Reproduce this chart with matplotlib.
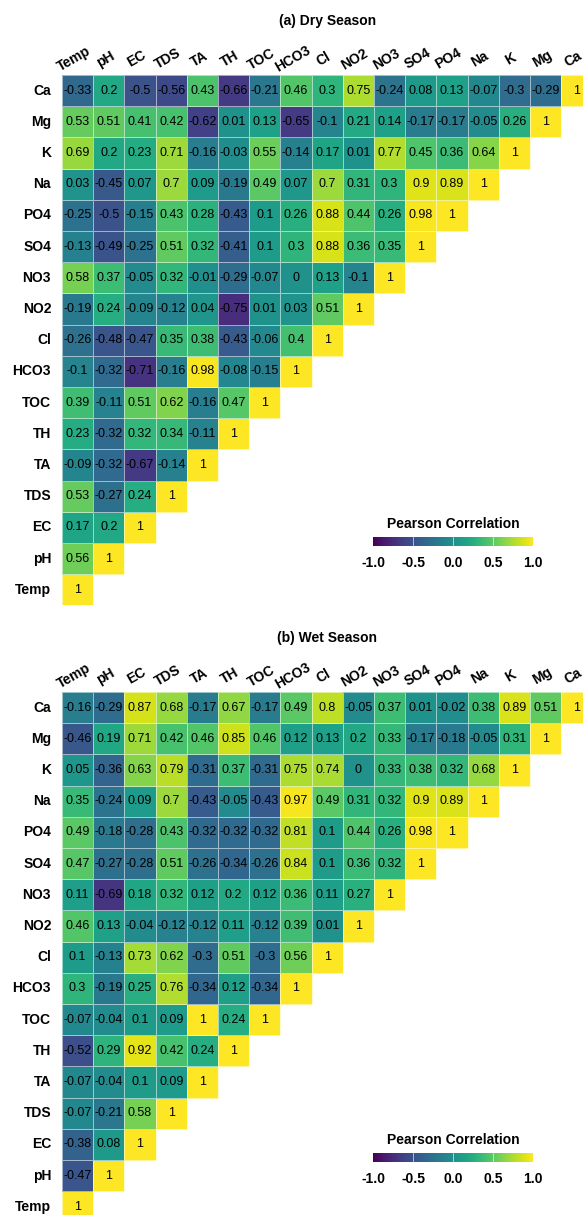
import numpy as np
import matplotlib
matplotlib.use("Agg")
import matplotlib.pyplot as plt

plt.rcParams['font.family'] = ['Liberation Sans', 'DejaVu Sans']

variables = ["Temp", "pH", "EC", "TDS", "TA", "TH", "TOC", "HCO3", "Cl",
             "NO2", "NO3", "SO4", "PO4", "Na", "K", "Mg", "Ca"]

# lower-triangle rows as printed in the picture (row name -> values from Temp onward)
dry_rows = {
    "Ca":   [-0.33, 0.2, -0.5, -0.56, 0.43, -0.66, -0.21, 0.46, 0.3, 0.75, -0.24, 0.08, 0.13, -0.07, -0.3, -0.29, 1],
    "Mg":   [0.53, 0.51, 0.41, 0.42, -0.62, 0.01, 0.13, -0.65, -0.1, 0.21, 0.14, -0.17, -0.17, -0.05, 0.26, 1],
    "K":    [0.69, 0.2, 0.23, 0.71, -0.16, -0.03, 0.55, -0.14, 0.17, 0.01, 0.77, 0.45, 0.36, 0.64, 1],
    "Na":   [0.03, -0.45, 0.07, 0.7, 0.09, -0.19, 0.49, 0.07, 0.7, 0.31, 0.3, 0.9, 0.89, 1],
    "PO4":  [-0.25, -0.5, -0.15, 0.43, 0.28, -0.43, 0.1, 0.26, 0.88, 0.44, 0.26, 0.98, 1],
    "SO4":  [-0.13, -0.49, -0.25, 0.51, 0.32, -0.41, 0.1, 0.3, 0.88, 0.36, 0.35, 1],
    "NO3":  [0.58, 0.37, -0.05, 0.32, -0.01, -0.29, -0.07, 0, 0.13, -0.1, 1],
    "NO2":  [-0.19, 0.24, -0.09, -0.12, 0.04, -0.75, 0.01, 0.03, 0.51, 1],
    "Cl":   [-0.26, -0.48, -0.47, 0.35, 0.38, -0.43, -0.06, 0.4, 1],
    "HCO3": [-0.1, -0.32, -0.71, -0.16, 0.98, -0.08, -0.15, 1],
    "TOC":  [0.39, -0.11, 0.51, 0.62, -0.16, 0.47, 1],
    "TH":   [0.23, -0.32, 0.32, 0.34, -0.11, 1],
    "TA":   [-0.09, -0.32, -0.67, -0.14, 1],
    "TDS":  [0.53, -0.27, 0.24, 1],
    "EC":   [0.17, 0.2, 1],
    "pH":   [0.56, 1],
    "Temp": [1],
}

wet_rows = {
    "Ca":   [-0.16, -0.29, 0.87, 0.68, -0.17, 0.67, -0.17, 0.49, 0.8, -0.05, 0.37, 0.01, -0.02, 0.38, 0.89, 0.51, 1],
    "Mg":   [-0.46, 0.19, 0.71, 0.42, 0.46, 0.85, 0.46, 0.12, 0.13, 0.2, 0.33, -0.17, -0.18, -0.05, 0.31, 1],
    "K":    [0.05, -0.36, 0.63, 0.79, -0.31, 0.37, -0.31, 0.75, 0.74, 0, 0.33, 0.38, 0.32, 0.68, 1],
    "Na":   [0.35, -0.24, 0.09, 0.7, -0.43, -0.05, -0.43, 0.97, 0.49, 0.31, 0.32, 0.9, 0.89, 1],
    "PO4":  [0.49, -0.18, -0.28, 0.43, -0.32, -0.32, -0.32, 0.81, 0.1, 0.44, 0.26, 0.98, 1],
    "SO4":  [0.47, -0.27, -0.28, 0.51, -0.26, -0.34, -0.26, 0.84, 0.1, 0.36, 0.32, 1],
    "NO3":  [0.11, -0.69, 0.18, 0.32, 0.12, 0.2, 0.12, 0.36, 0.11, 0.27, 1],
    "NO2":  [0.46, 0.13, -0.04, -0.12, -0.12, 0.11, -0.12, 0.39, 0.01, 1],
    "Cl":   [0.1, -0.13, 0.73, 0.62, -0.3, 0.51, -0.3, 0.56, 1],
    "HCO3": [0.3, -0.19, 0.25, 0.76, -0.34, 0.12, -0.34, 1],
    "TOC":  [-0.07, -0.04, 0.1, 0.09, 1, 0.24, 1],
    "TH":   [-0.52, 0.29, 0.92, 0.42, 0.24, 1],
    "TA":   [-0.07, -0.04, 0.1, 0.09, 1],
    "TDS":  [-0.07, -0.21, 0.58, 1],
    "EC":   [-0.38, 0.08, 1],
    "pH":   [-0.47, 1],
    "Temp": [1],
}

cbar_ticks = [-1.0, -0.5, 0.0, 0.5, 1.0]

W, H = 583, 1215
fig = plt.figure(figsize=(W / 100, H / 100), dpi=100)
n = len(variables)
cell = 31.2


def build_matrix(rows):
    mat = np.full((n, n), np.nan)
    for r, name in enumerate(variables):
        vals = rows[name]
        mat[r, :len(vals)] = vals
    return np.ma.masked_invalid(mat)


def draw_panel(rows, top_px, title, cbar_bar_top):
    left = 62 / W
    side = n * cell
    ax = fig.add_axes([left, 1 - (top_px + side) / H, side / W, side / H])
    mat = build_matrix(rows)
    mesh = ax.pcolormesh(np.arange(n + 1), np.arange(n + 1), mat, cmap="viridis",
                         vmin=-1, vmax=1, edgecolors=(1, 1, 1, 0.55), linewidth=0.5)
    ax.set_xlim(0, n)
    ax.set_ylim(0, n)
    ax.axis("off")
    for r in range(n):
        for c in range(n):
            if mat.mask[r, c]:
                continue
            v = mat[r, c]
            txt = "{:g}".format(v) if v != 0 else "0"
            ax.text(c + 0.5, r + 0.5, txt, ha="center", va="center", fontsize=9,
                    color="black", clip_on=False)
        ax.text(-0.35, r + 0.5, variables[r], ha="right", va="center",
                fontsize=10, fontweight="bold")
    for c in range(n):
        ax.text(c + 0.5, n + 0.32, variables[c], rotation=30, ha="center", va="bottom",
                rotation_mode="anchor", fontsize=10, fontweight="bold", clip_on=False)
    fig.text((62 + side / 2) / W, 1 - (top_px - 54) / H, title, ha="center",
             va="center", fontsize=10, fontweight="bold")

    # colour bar
    bx0, bw, bh = 373, 160, 9
    cax = fig.add_axes([bx0 / W, 1 - (cbar_bar_top + bh) / H, bw / W, bh / H])
    cb = fig.colorbar(mesh, cax=cax, orientation="horizontal", ticks=cbar_ticks)
    cb.outline.set_visible(False)
    cax.tick_params(length=0, pad=7)
    cax.set_xticklabels(["{:.1f}".format(t) for t in cbar_ticks],
                        fontsize=10, fontweight="bold")
    for t in cbar_ticks[1:-1]:
        cax.axvline(t, color="white", lw=0.6, alpha=0.7)
    fig.text((bx0 + bw / 2) / W, 1 - (cbar_bar_top - 13) / H, "Pearson Correlation",
             ha="center", va="center", fontsize=10, fontweight="bold")


draw_panel(dry_rows, 75, "(a) Dry Season", 537)
draw_panel(wet_rows, 692, "(b) Wet Season", 1153)

fig.savefig("out.png", dpi=100)
